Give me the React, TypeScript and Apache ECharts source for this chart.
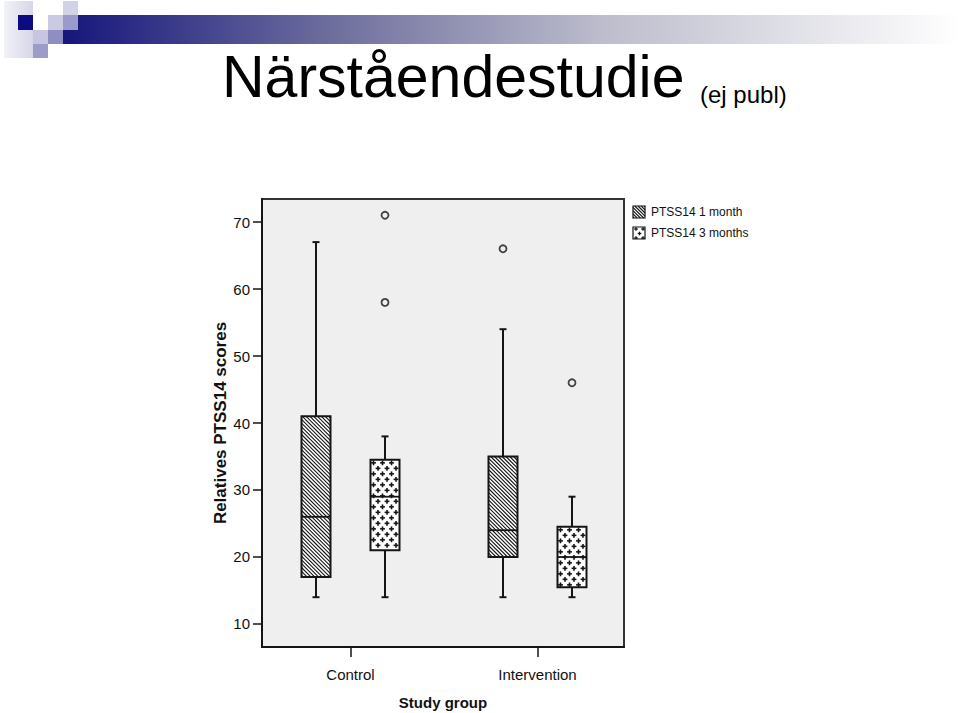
import React, { useEffect, useRef } from "react";
import * as echarts from "echarts";

const categories = ["Control", "Intervention"];
const seriesNames = ["PTSS14 1 month", "PTSS14 3 months"];
const yTicks = [10, 20, 30, 40, 50, 60, 70];
// [lower whisker, Q1, median, Q3, upper whisker]
const oneMonth = [
  [14, 17, 26, 41, 67],
  [14, 20, 24, 35, 54],
];
const threeMonths = [
  [14, 21, 29, 34.5, 38],
  [14, 15.5, 20, 24.5, 29],
];
// [group number (1-based), value]
const oneMonthOutliers = [[2, 66]];
const threeMonthOutliers = [
  [1, 71],
  [1, 58],
  [2, 46],
];

const FONT = "'Liberation Sans', Arial, Helvetica, sans-serif";
const INK = "#151515";
const OFFSET = 34.5;
const BOX_W = 29;

function hatch(L: number, T: number, R: number, B: number, step: number) {
  const els: any[] = [];
  const k0 = Math.ceil((L - B) / step);
  for (let c = k0 * step; c < R - T; c += step) {
    const y1 = Math.max(T, L - c);
    const y2 = Math.min(B, R - c);
    if (y2 - y1 < 0.5) continue;
    els.push({
      type: "line",
      shape: { x1: c + y1, y1, x2: c + y2, y2 },
      style: { stroke: INK, lineWidth: 1.1 },
    });
  }
  return els;
}

function crosses(L: number, T: number, R: number, B: number, dx: number, dy: number, arm: number, w: number) {
  const els: any[] = [];
  let k = 0;
  for (let y = T + 3; y < B - 0.5; y += dy, k++) {
    const off = (k % 2) * (dx / 2);
    for (let x = L + 3 + off; x < R - 0.5; x += dx) {
      els.push({
        type: "line",
        shape: { x1: Math.max(L, x - arm), y1: y, x2: Math.min(R, x + arm), y2: y },
        style: { stroke: INK, lineWidth: w },
      });
      els.push({
        type: "line",
        shape: { x1: x, y1: Math.max(T, y - arm), x2: x, y2: Math.min(B, y + arm) },
        style: { stroke: INK, lineWidth: w },
      });
    }
  }
  return els;
}

function makeRenderItem(kind: number) {
  return (params: any, api: any) => {
    const g = api.value(0);
    const lo = api.coord([g, api.value(1)]);
    const q1 = api.coord([g, api.value(2)]);
    const med = api.coord([g, api.value(3)]);
    const q3 = api.coord([g, api.value(4)]);
    const hi = api.coord([g, api.value(5)]);
    const cx = lo[0] + (kind === 0 ? -OFFSET : OFFSET);
    const L = cx - BOX_W / 2;
    const R = cx + BOX_W / 2;
    const T = q3[1];
    const B = q1[1];
    const pattern = kind === 0 ? hatch(L, T, R, B, 3.8) : crosses(L, T, R, B, 9, 5.5, 2.4, 1.6);
    const line = (x1: number, y1: number, x2: number, y2: number, w = 2) => ({
      type: "line",
      shape: { x1, y1, x2, y2 },
      style: { stroke: INK, lineWidth: w },
    });
    return {
      type: "group",
      children: [
        line(cx, hi[1], cx, T),
        line(cx - 3.5, hi[1], cx + 3.5, hi[1]),
        line(cx, B, cx, lo[1]),
        line(cx - 3.5, lo[1], cx + 3.5, lo[1]),
        {
          type: "rect",
          shape: { x: L, y: T, width: R - L, height: B - T },
          style: { fill: "#ffffff", stroke: null },
        },
        ...pattern,
        {
          type: "rect",
          shape: { x: L, y: T, width: R - L, height: B - T },
          style: { fill: "none", stroke: INK, lineWidth: 2 },
        },
        line(L, med[1], R, med[1], 1.8),
      ],
    };
  };
}

function logoElements() {
  const sq = (x: number, y: number, w: number, h: number, fill: any) => ({
    type: "rect",
    shape: { x, y, width: w, height: h },
    style: { fill },
    silent: true,
  });
  return [
    sq(4, 1, 29, 57, {
      type: "linear", x: 0, y: 0, x2: 1, y2: 0,
      colorStops: [
        { offset: 0, color: "#f2f2f8" },
        { offset: 1, color: "#d6d6e8" },
      ],
    }),
    sq(63, 15, 897, 29, {
      type: "linear", x: 0, y: 0, x2: 1, y2: 0,
      colorStops: [
        { offset: 0, color: "#16167c" },
        { offset: 0.3, color: "#6e6e9e" },
        { offset: 0.6, color: "#bcbccc" },
        { offset: 0.85, color: "#e6e6ec" },
        { offset: 1, color: "#ffffff" },
      ],
    }),
    sq(18, 15, 15, 15, "#0c0c82"),
    sq(48, 15, 15, 15, "#cacae2"),
    sq(63, 1, 15, 14, "#d2d2e8"),
    sq(63, 15, 15, 15, "#9a9acb"),
    sq(33, 30, 15, 14, "#c6c6e0"),
    sq(48, 30, 15, 14, "#8e8ec2"),
    sq(33, 44, 15, 14, "#9c9cca"),
  ];
}

function legendElements() {
  const els: any[] = [];
  const items = [
    { y: 206, kind: 0 },
    { y: 227, kind: 1 },
  ];
  items.forEach((it, i) => {
    const L = 633, T = it.y, R = 645, B = it.y + 12;
    els.push({ type: "rect", shape: { x: L, y: T, width: 12, height: 12 }, style: { fill: "#fff" } });
    const pat = it.kind === 0 ? hatch(L, T, R, B, 3.2) : crosses(L, T - 1, R, B, 7, 4.5, 1.8, 1.3);
    pat.forEach((p) => els.push(p));
    els.push({
      type: "rect",
      shape: { x: L, y: T, width: 12, height: 12 },
      style: { fill: "none", stroke: INK, lineWidth: 1.2 },
    });
    els.push({
      type: "text",
      x: 651,
      y: T + 6,
      style: {
        text: seriesNames[i],
        fontFamily: FONT,
        fontSize: 12,
        fill: "#111",
        verticalAlign: "middle",
        align: "left",
      },
    });
  });
  return els;
}

export default function App() {
  const ref = useRef<HTMLDivElement>(null);
  useEffect(() => {
    if (!ref.current) return;
    const chart = echarts.init(ref.current, null, { renderer: "svg" });
    const option: any = {
      animation: false,
      backgroundColor: "#ffffff",
      textStyle: { fontFamily: FONT },
      grid: {
        show: true,
        left: 262,
        right: 336,
        top: 199,
        bottom: 66,
        containLabel: false,
        outerBoundsMode: "none",
        backgroundColor: "#efefef",
        borderColor: "#333",
        borderWidth: 2,
      },
      xAxis: {
        type: "value",
        min: 0.5267,
        max: 2.4626,
        splitLine: { show: false },
        axisLine: { show: true, lineStyle: { color: INK, width: 2 } },
        axisTick: {
          show: true,
          customValues: [1, 2],
          length: 10,
          lineStyle: { color: INK, width: 1.5 },
        },
        axisLabel: {
          customValues: [1, 2],
          formatter: (v: number) => categories[Math.round(v) - 1] ?? "",
          fontFamily: FONT,
          fontSize: 15,
          color: "#111",
          margin: 20,
        },
        name: "Study group",
        nameLocation: "middle",
        nameGap: 48,
        nameTextStyle: { fontFamily: FONT, fontSize: 15, fontWeight: "bold", color: "#111" },
      },
      yAxis: {
        type: "value",
        min: 6.567,
        max: 73.433,
        splitLine: { show: false },
        axisLine: { show: true, lineStyle: { color: INK, width: 2 } },
        axisTick: {
          show: true,
          customValues: yTicks,
          length: 9,
          lineStyle: { color: INK, width: 1.5 },
        },
        axisLabel: {
          customValues: yTicks,
          fontFamily: FONT,
          fontSize: 15,
          color: "#111",
          margin: 12,
        },
        name: "Relatives PTSS14 scores",
        nameLocation: "middle",
        nameGap: 33,
        nameTextStyle: { fontFamily: FONT, fontSize: 17, fontWeight: "bold", color: "#111" },
      },
      series: [
        {
          type: "custom",
          name: seriesNames[0],
          renderItem: makeRenderItem(0),
          encode: { x: 0, y: [1, 2, 3, 4, 5] },
          data: oneMonth.map((b, i) => [i + 1, ...b]),
          z: 2,
        },
        {
          type: "custom",
          name: seriesNames[1],
          renderItem: makeRenderItem(1),
          encode: { x: 0, y: [1, 2, 3, 4, 5] },
          data: threeMonths.map((b, i) => [i + 1, ...b]),
          z: 2,
        },
        {
          type: "scatter",
          name: seriesNames[0] + " outliers",
          data: oneMonthOutliers,
          symbol: "circle",
          symbolSize: 7,
          symbolOffset: [-OFFSET, 0],
          itemStyle: { color: "#efefef", borderColor: INK, borderWidth: 1.8 },
          z: 3,
        },
        {
          type: "scatter",
          name: seriesNames[1] + " outliers",
          data: threeMonthOutliers,
          symbol: "circle",
          symbolSize: 7,
          symbolOffset: [OFFSET, 0],
          itemStyle: { color: "#efefef", borderColor: INK, borderWidth: 1.8 },
          z: 3,
        },
      ],
      graphic: [
        ...logoElements(),
        {
          type: "text",
          x: 222,
          y: 77,
          style: {
            text: "Närståendestudie",
            fontFamily: FONT,
            fontSize: 59,
            fill: "#000",
            verticalAlign: "middle",
            align: "left",
          },
        },
        {
          type: "text",
          x: 700,
          y: 94,
          style: {
            text: "(ej publ)",
            fontFamily: FONT,
            fontSize: 24,
            fill: "#000",
            verticalAlign: "middle",
            align: "left",
          },
        },
        ...legendElements(),
      ],
    };
    chart.setOption(option);
    return () => chart.dispose();
  }, []);
  return (
    <div
      ref={ref}
      style={{ position: "fixed", left: 0, top: 0, width: 960, height: 713 }}
    />
  );
}
